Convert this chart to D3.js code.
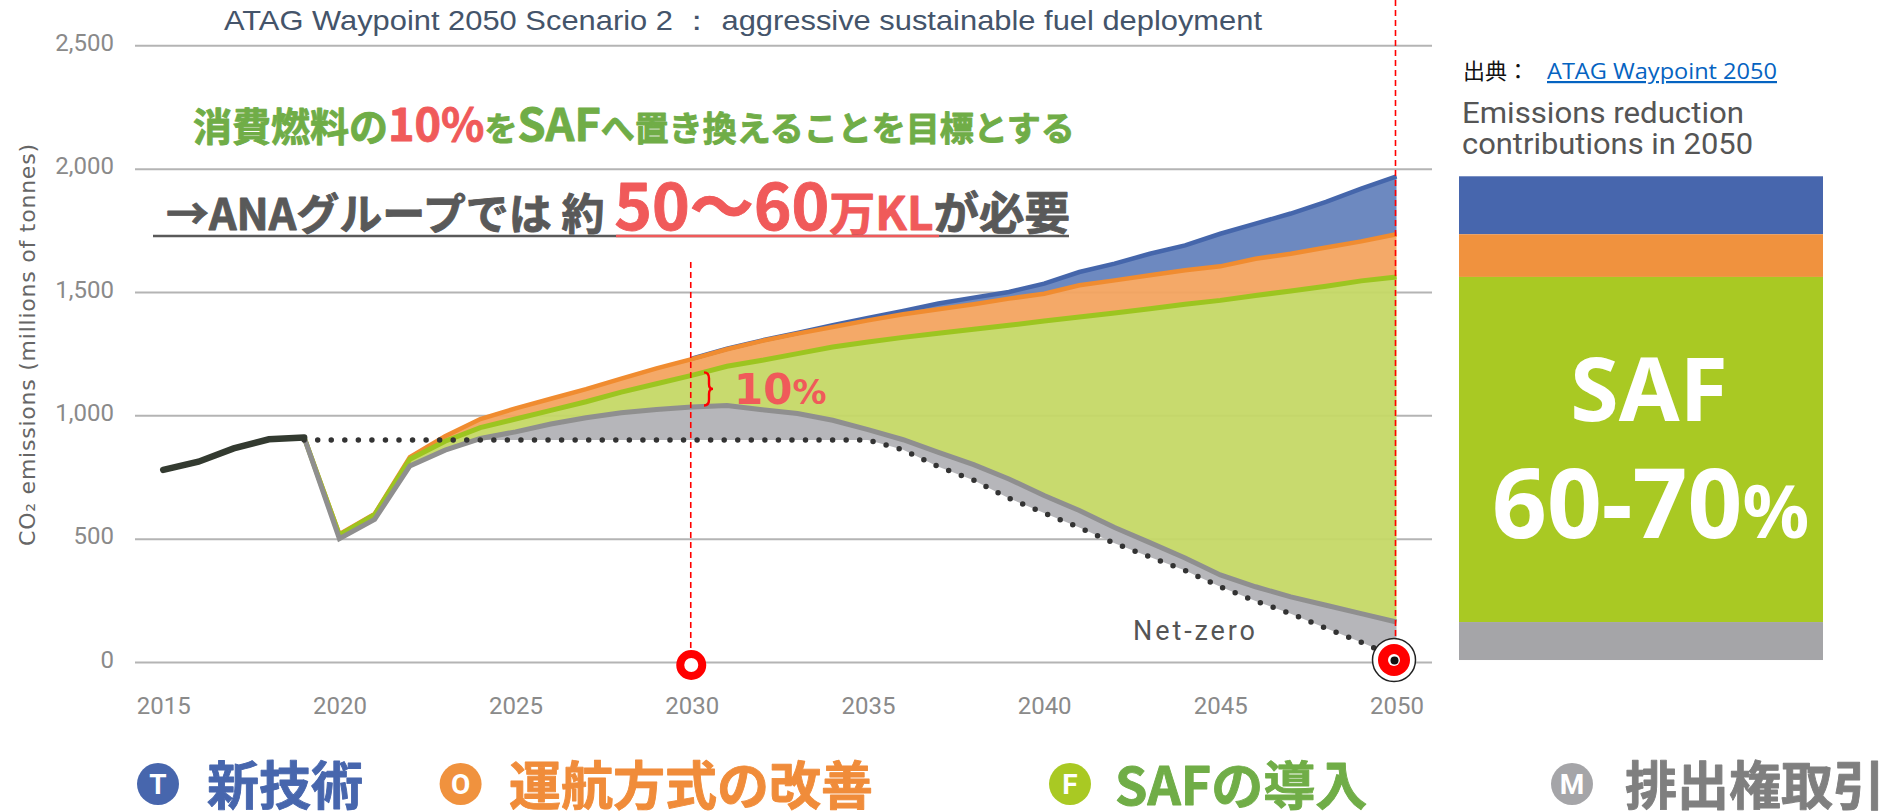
<!DOCTYPE html>
<html lang="ja"><head><meta charset="utf-8">
<script src="https://cdn.jsdelivr.net/npm/d3@7/dist/d3.min.js"></script>
<style>
html,body{margin:0;padding:0;background:#fff;overflow:hidden}
svg{display:block}
text{font-family:"Liberation Sans",sans-serif}
.cjk{font-family:"Noto Sans CJK JP",sans-serif;font-weight:700;stroke-linejoin:round}
</style></head><body><svg id="c" width="1896" height="811"></svg>
<script>
const histYears=[2015,2016,2017,2018,2019];
const histValues=[779,812,866,903,910];
const years=[2019,2020,2021,2022,2023,2024,2025,2026,2027,2028,2029,2030,2031,2032,2033,2034,2035,2036,2037,2038,2039,2040,2041,2042,2043,2044,2045,2046,2047,2048,2049,2050];
const technology=[910,518,600,830,915,985,1030,1068,1107,1150,1192,1230,1270,1304,1334,1365,1395,1423,1453,1477,1500,1534,1581,1615,1655,1689,1736,1777,1818,1865,1919,1969];
const operations=[910,518,600,830,915,985,1028,1067,1106,1149,1190,1228,1268,1302,1331,1358,1385,1410,1430,1450,1473,1493,1527,1547,1568,1588,1604,1635,1655,1680,1705,1734];
const saf=[910,514,597,822,895,950,985,1020,1055,1094,1128,1162,1199,1223,1250,1277,1297,1316,1333,1349,1365,1382,1399,1415,1432,1450,1466,1486,1504,1523,1545,1561];
const offsets=[910,500,578,795,859,906,933,965,990,1010,1024,1034,1040,1023,1007,980,942,901,850,800,742,675,614,545,484,422,353,305,264,230,196,162];
const netZero=[900,900,900,900,900,900,900,900,900,900,900,900,900,900,900,900,900,860,792,737,664,604,545,481,426,371,305,247,196,137,80,18];
const yTicks=[0,500,1000,1500,2000,2500];
const xTicks=[2015,2020,2025,2030,2035,2040,2045,2050];
const legendLetters=["T","O","F","M"];
const legendLabels=["新技術","運航方式の改善","SAFの導入","排出権取引"];
const barBase=8;

const svg=d3.select("#c");
const x=d3.scaleLinear().domain([2015,2050]).range([163.2,1396.5]);
const y=d3.scaleLinear().domain([0,2500]).range([662,45.3]);
const rows=years.map((yr,i)=>({yr,t:technology[i],o:operations[i],f:saf[i],m:offsets[i],n:netZero[i]}));

// grid + y axis
const gy=svg.append("g").attr("transform","translate(135,0)")
  .call(d3.axisLeft(y).tickValues(yTicks).tickFormat(d3.format(",")).tickSizeInner(-1297).tickSizeOuter(0).tickPadding(21));
gy.select(".domain").remove();
gy.selectAll("line").attr("stroke","#b4b4b4").attr("stroke-width",2);
gy.selectAll("text").attr("fill","#8a8a8a").attr("dy","0.22em").style("font-family","Roboto").style("font-size","24px");
// x axis
const gx=svg.append("g").attr("transform","translate(0,662)")
  .call(d3.axisBottom(x).tickValues(xTicks).tickFormat(d3.format("d")).tickSize(0).tickPadding(35));
gx.select(".domain").remove();
gx.selectAll("text").attr("fill","#8a8a8a").style("font-family","Roboto").style("font-size","24px");

svg.append("text").attr("transform","translate(35,345) rotate(-90)").attr("text-anchor","middle")
  .attr("fill","#666").attr("textLength",402).attr("lengthAdjust","spacing")
  .style("font-family","'DejaVu Sans'").style("font-size","22px").text("CO₂ emissions (millions of tonnes)");

// layers
const band=(hi,lo)=>d3.area().x(d=>x(d.yr)).y1(d=>y(d[hi])).y0(d=>y(d[lo]));
const line=k=>d3.line().x(d=>x(d.yr)).y(d=>y(d[k]));
const layers=[
 {hi:"t",lo:"o",fill:"#6583bd",stroke:"#4566ab",w:4.5,data:rows.filter(d=>d.yr>=2030)},
 {hi:"o",lo:"f",fill:"#f3a460",stroke:"#f08c30",w:4.5,data:rows},
 {hi:"f",lo:"m",fill:"#c5d866",stroke:"#9cc520",w:5,data:rows},
];
layers.forEach(l=>svg.append("path").datum(l.data).attr("d",band(l.hi,l.lo)).attr("fill",l.fill).attr("fill-opacity",.95));
svg.append("path").datum(rows.filter(d=>d.yr>=2024)).attr("d",band("m","n")).attr("fill","#b6b6ba");
layers.forEach(l=>svg.append("path").datum(l.data).attr("d",line(l.hi)).attr("fill","none").attr("stroke",l.stroke).attr("stroke-width",l.w));
svg.append("path").datum(rows).attr("d",line("m")).attr("fill","none").attr("stroke","#8f8f8f").attr("stroke-width",5);
svg.append("path").datum(rows).attr("d",line("n")).attr("fill","none").attr("stroke","#333")
  .attr("stroke-width",5.5).attr("stroke-linecap","round").attr("stroke-dasharray","0 13.55");
svg.append("path").datum(histYears.map((yr,i)=>({yr,v:histValues[i]}))).attr("d",line("v"))
  .attr("fill","none").attr("stroke","#333a30").attr("stroke-width",6.5).attr("stroke-linecap","round");

// red markers
const vDash=(yr,a,b)=>svg.append("line").attr("x1",x(yr)-1).attr("x2",x(yr)-1).attr("y1",a).attr("y2",b)
  .attr("stroke","#ff0000").attr("stroke-width",1.6).attr("stroke-dasharray","6 4");
vDash(2030,262,650); vDash(2050,0,640);
svg.append("circle").attr("cx",x(2030)-.5).attr("cy",665).attr("r",11).attr("fill","#fff").attr("stroke","#ff0000").attr("stroke-width",8);
const cx50=x(2050)-2.5;
svg.append("circle").attr("cx",cx50).attr("cy",660).attr("r",21.5).attr("fill","#fff").attr("stroke","#222").attr("stroke-width",1.5);
svg.append("circle").attr("cx",cx50).attr("cy",660).attr("r",16).attr("fill","#ff0000");
svg.append("circle").attr("cx",cx50).attr("cy",660).attr("r",6).attr("fill","#fff");
svg.append("circle").attr("cx",cx50+.5).attr("cy",660.5).attr("r",4).attr("fill","#111");

// brace + 10%
const by0=y(saf[11])-3,by1=y(offsets[12]),bx=707,bm=(by0+by1)/2;
svg.append("path").attr("d",`M${bx-3},${by0} Q${bx+2},${by0} ${bx+2},${by0+6} L${bx+2},${bm-5} Q${bx+2},${bm} ${bx+6},${bm} Q${bx+2},${bm} ${bx+2},${bm+5} L${bx+2},${by1-6} Q${bx+2},${by1} ${bx-3},${by1}`)
 .attr("fill","none").attr("stroke","#ff0000").attr("stroke-width",2.4);
const t10=svg.append("text").attr("x",734).attr("y",404).attr("fill","#f05a5a").style("font-family","'DejaVu Sans'").style("font-weight",700);
t10.append("tspan").style("font-size","42px").text("10");
t10.append("tspan").style("font-size","34px").text("%");

// title
svg.append("text").attr("x",224).attr("y",30).attr("fill","#44546a").style("font-size","27.5px")
  .attr("textLength",1038).attr("lengthAdjust","spacingAndGlyphs").text("ATAG Waypoint 2050 Scenario 2 ： aggressive sustainable fuel deployment");

// headlines
const GREEN="#70ad47",RED="#f05a5a",DARK="#595959";
const bold=(t,c)=>t.attr("fill",c).attr("stroke",c).attr("stroke-width",.9);
const h1=bold(svg.append("text").attr("class","cjk").attr("x",193).attr("y",141).style("font-size","39px"),GREEN);
h1.append("tspan").text("消費燃料の");
bold(h1.append("tspan").style("font-size","45px"),RED).text("10%");
h1.append("tspan").style("font-size","33px").text("を");
h1.append("tspan").style("font-size","45px").text("SAF");
h1.append("tspan").style("font-size","34px").text("へ置き換えることを目標とする");
const h2=bold(svg.append("text").attr("class","cjk").attr("x",166).attr("y",230).style("font-size","43px"),DARK);
h2.append("tspan").text("→ANAグループでは 約 ");
bold(h2.append("tspan").style("font-size","64px"),RED).text("50～60");
bold(h2.append("tspan").style("font-size","46px"),RED).text("万KL");
h2.append("tspan").style("font-size","45.5px").text("が必要");
svg.append("line").attr("x1",153).attr("x2",1069).attr("y1",236).attr("y2",236).attr("stroke",DARK).attr("stroke-width",2.6);
svg.append("line").attr("x1",616).attr("x2",939).attr("y1",236).attr("y2",236).attr("stroke",RED).attr("stroke-width",2.6);

// net-zero
svg.append("text").attr("x",1133).attr("y",640).attr("fill","#555").style("font-family","Roboto").style("font-size","27px")
 .attr("textLength",122).text("Net-zero");

// right column
svg.append("text").attr("x",1463).attr("y",79).attr("fill","#111").style("font-family","'Noto Sans CJK JP'").style("font-size","22px").text("出典：");
svg.append("text").attr("x",1547).attr("y",79).attr("fill","#0563c1").style("font-family","'Open Sans'").style("font-size","22px")
 .style("text-decoration","underline").attr("textLength",230).attr("lengthAdjust","spacingAndGlyphs").text("ATAG Waypoint 2050");
svg.append("text").attr("x",1462).attr("y",123).attr("fill","#555").style("font-family","Roboto").style("font-size","30px").attr("textLength",282).attr("lengthAdjust","spacingAndGlyphs").text("Emissions reduction");
svg.append("text").attr("x",1462).attr("y",154).attr("fill","#555").style("font-family","Roboto").style("font-size","30px").attr("textLength",291).attr("lengthAdjust","spacingAndGlyphs").text("contributions in 2050");
const last=rows[rows.length-1];
[[last.t,last.o,"#4766ad"],[last.o,last.f,"#f0923e"],[last.f,last.m,"#a9c923"],[last.m,barBase,"#a5a5a8"]].forEach(([hi,lo,c])=>
 svg.append("rect").attr("x",1459).attr("width",364).attr("y",y(hi)).attr("height",y(lo)-y(hi)).attr("fill",c));
svg.append("text").attr("x",1649).attr("y",421).attr("text-anchor","middle").attr("fill","#fff").style("font-family","'Noto Sans'").style("font-weight",700).style("font-size","88px").text("SAF");
const t60=svg.append("text").attr("x",1492).attr("y",538).attr("fill","#fff").style("font-family","'Noto Sans'").style("font-weight",700);
t60.append("tspan").style("font-size","96px").text("60-70");
t60.append("tspan").style("font-size","74px").text("%");

// legend
const legendX=[158,460.6,1070,1572], legendTextX=[207,509,1115,1625];
const legendCircle=["#4766ad","#f0923e","#a9c923","#a5a5a8"], legendText=["#4766ad","#f08c3a","#70ad47","#7f7f7f"];
legendLetters.forEach((L,i)=>{
 svg.append("circle").attr("cx",legendX[i]).attr("cy",784).attr("r",21).attr("fill",legendCircle[i]);
 svg.append("text").attr("x",legendX[i]).attr("y",794).attr("text-anchor","middle").attr("fill","#fff").style("font-family","Roboto").style("font-weight",700).style("font-size","28px").text(L);
 bold(svg.append("text").attr("class","cjk").attr("x",legendTextX[i]).attr("y",805).style("font-size","52px"),legendText[i]).text(legendLabels[i]);
});
</script></body></html>
